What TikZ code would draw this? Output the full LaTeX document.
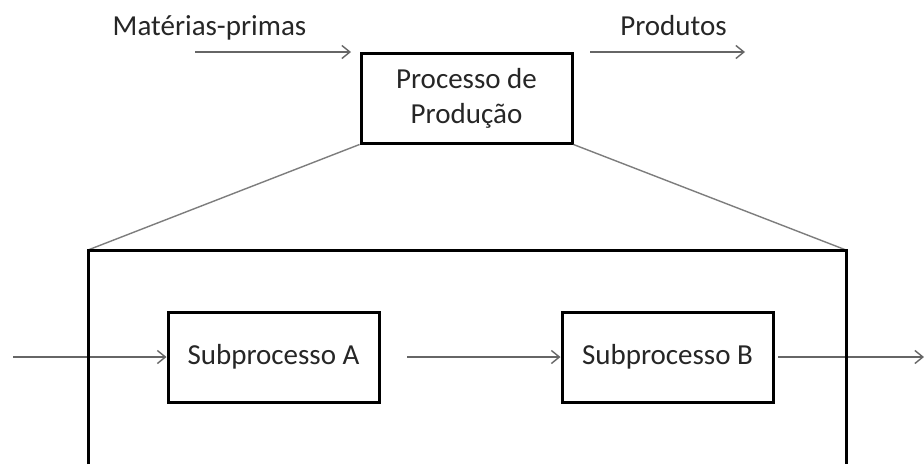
\documentclass[tikz,border=0pt]{standalone}
\usepackage{fontspec}
\setmainfont{Carlito}
\usetikzlibrary{arrows.meta}
\definecolor{inkgray}{HTML}{262626}
\definecolor{flowgray}{HTML}{666666}
\tikzset{
  procbox/.style={draw=black, line width=3pt, minimum width=211pt, minimum height=90pt,
    inner sep=0pt, text=inkgray, font=\fontsize{29}{35}\selectfont, align=center},
  label/.style={text=inkgray, font=\fontsize{29}{35}\selectfont, anchor=base, inner sep=0pt},
  flow/.style={draw=flowgray, line width=1.4pt, -{Straight Barb[length=8pt,width=13pt,line width=1.4pt]}},
  zoomline/.style={draw=flowgray!85, line width=1.4pt},
  frame/.style={draw=black, line width=3pt, line join=miter}
}
\begin{document}
\begin{tikzpicture}[x=1pt,y=-1pt]
  \useasboundingbox[fill=white] (0,0) rectangle (924,464);

  % top level process
  \node[procbox] (proc) at (466.5,98) {Processo de\\Produção};
  \node[label] (inlbl) at (209.5,35) {Matérias-primas};
  \node[label] (outlbl) at (673.5,35) {Produtos};
  \coordinate (in1) at (195,52);
  \coordinate (in2) at (351,52);
  \coordinate (out1) at (590,52);
  \coordinate (out2) at (745,52);
  \draw[flow] (in1) -- (in2);
  \draw[flow] (out1) -- (out2);

  % expanded view frame (open at the bottom)
  \coordinate (fTL) at (88,250);
  \coordinate (fTR) at (846,250);
  \coordinate (fBL) at (88,464);
  \coordinate (fBR) at (846,464);
  \draw[zoomline] (proc.south west) -- (fTL);
  \draw[zoomline] (proc.south east) -- (fTR);

  % subprocesses
  \node[procbox] (subA) at (273.5,357) {Subprocesso A};
  \node[procbox] (subB) at (667.5,357) {Subprocesso B};
  \coordinate (enter) at (13,357);
  \coordinate (midstart) at (407,357);
  \coordinate (leave) at (778,357);
  \coordinate (exit) at (924,357);
  \draw[flow] (enter) -- (subA.west);
  \draw[flow] (midstart) -- (subB.west);
  \draw[flow] (leave) -- (exit);

  \draw[frame] (fBL) -- (fTL) -- (fTR) -- (fBR);
\end{tikzpicture}
\end{document}
